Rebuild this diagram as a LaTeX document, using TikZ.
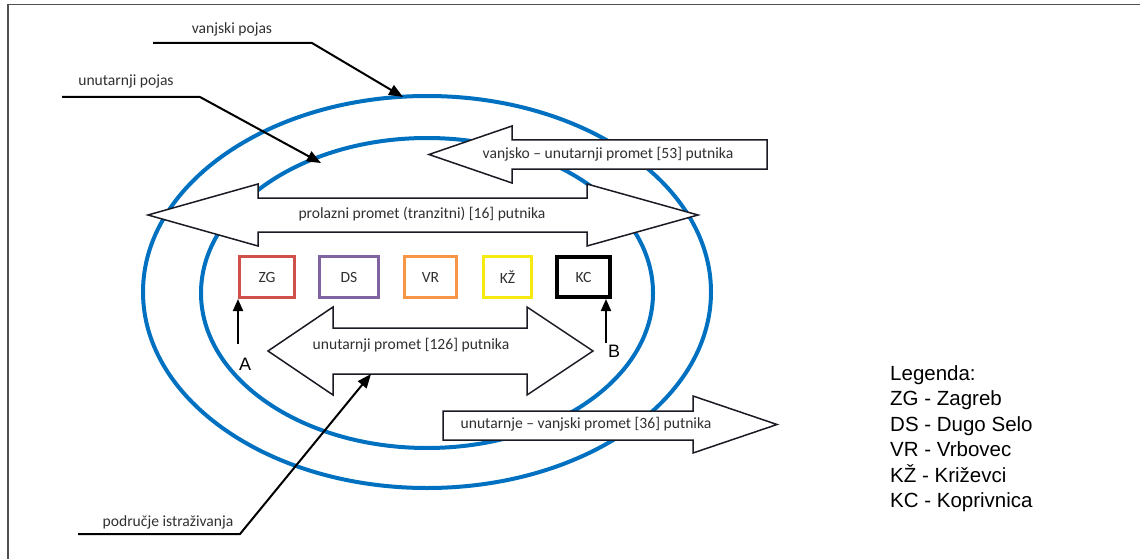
\documentclass[tikz,border=0pt]{standalone}
\usepackage{fontspec}
\setmainfont{Carlito}
\newfontfamily\legfont{Liberation Sans}
\usetikzlibrary{arrows.meta}
\definecolor{ringblue}{HTML}{0070C0}
\definecolor{zgred}{HTML}{D0504A}
\definecolor{dspurple}{HTML}{8064A2}
\definecolor{vrorange}{HTML}{F79646}
\definecolor{kzyellow}{HTML}{F5EB10}
\definecolor{txtgray}{HTML}{303030}
\definecolor{framegray}{HTML}{505050}
\definecolor{outl}{HTML}{1A1A24}
\begin{document}
\begin{tikzpicture}[x=1pt,y=-1pt,
  ring/.style={draw=ringblue,line width=4pt},
  bigarrow/.style={draw=outl,fill=white,line width=1.5pt,line join=miter},
  lbl/.style={font=\fontsize{15.6}{18}\selectfont,text=txtgray,inner sep=0pt},
  city/.style={draw,line width=3pt,minimum width=55pt,minimum height=41pt,inner sep=0pt,font=\fontsize{15.6}{18}\selectfont,text=txtgray},
  ptr/.style={draw=black,line width=2pt,-{Triangle[length=14pt,width=11pt]}},
  upptr/.style={draw=black,line width=2pt,-{Triangle[length=12pt,width=10pt]}},
  leg/.style={font=\legfont\fontsize{20.5}{23}\selectfont,anchor=base west,inner sep=0pt},
  ab/.style={font=\legfont\fontsize{18}{20}\selectfont,inner sep=0pt}]
\useasboundingbox (0,0) rectangle (1140,559);
% frame
\draw[framegray,line width=1.5pt] (8,559) -- (8,4.5) -- (1140,4.5);
% rings
\draw[ring] (427,292) ellipse [x radius=284pt, y radius=196pt];
\draw[ring] (427,293) ellipse [x radius=226pt, y radius=155pt];
% big arrows
\draw[bigarrow] (148,215) -- (258,184) -- (258,198) -- (587,198) -- (587,184) -- (698,215) -- (587,246) -- (587,232) -- (258,232) -- (258,246) -- cycle;
\node[lbl] (tranzit) at (422,214) {prolazni promet (tranzitni) [16] putnika};
\draw[bigarrow] (429,154.5) -- (512,126) -- (512,140) -- (767,140) -- (767,169) -- (512,169) -- (512,183) -- cycle;
\node[lbl] (vu) at (608,154) {vanjsko – unutarnji promet [53] putnika};
\draw[bigarrow] (268,351) -- (333,307) -- (333,328) -- (527,328) -- (527,307) -- (593,351) -- (527,395) -- (527,374) -- (333,374) -- (333,395) -- cycle;
\node[lbl] (uu) at (411,345) {unutarnji promet [126] putnika};
\draw[bigarrow] (443,411) -- (693,411) -- (693,396) -- (777,424.5) -- (693,453) -- (693,440) -- (443,440) -- cycle;
\node[lbl] (uv) at (586,424) {unutarnje – vanjski promet [36] putnika};
% cities
\node[city,draw=zgred] (ZG) at (267,277) {ZG};
\node[city,draw=dspurple,minimum width=59pt] (DS) at (349,277) {DS};
\node[city,draw=vrorange,minimum width=52pt] (VR) at (430.5,277) {VR};
\node[city,draw=kzyellow,minimum width=48pt] (KZ) at (507.5,277) {KŽ};
\node[city,draw=black,line width=4pt,minimum width=53pt,minimum height=40pt] (KC) at (583.5,277) {KC};
% A and B
\coordinate (a0) at (238,344);
\coordinate (b0) at (606,343);
\draw[upptr] (a0) -- (a0 |- ZG.south);
\draw[upptr] (b0) -- (b0 |- KC.south);
\node[ab] (A) at (245,364) {A};
\node[ab] (B) at (614,351) {B};
% pointer labels
\node[lbl] (vp) at (232,29) {vanjski pojas};
\coordinate (vp1) at (153,43);
\coordinate (vp2) at (312,43);
\coordinate (vpt) at (403,97);
\draw[ptr] (vp1) -- (vp2) -- (vpt);
\node[lbl] (up) at (126,81) {unutarnji pojas};
\coordinate (up1) at (62,97);
\coordinate (up2) at (200,97);
\coordinate (upt) at (321,163);
\draw[ptr] (up1) -- (up2) -- (upt);
\node[lbl] (pi) at (168,522) {područje istraživanja};
\coordinate (pi1) at (78,534);
\coordinate (pi2) at (240,534);
\coordinate (pit) at (371,374);
\draw[ptr] (pi1) -- (pi2) -- (pit);
% legend
\node[leg] (l0) at (890,380) {Legenda:};
\node[leg] (l1) at (890,405.5) {ZG - Zagreb};
\node[leg] (l2) at (890,431) {DS - Dugo Selo};
\node[leg] (l3) at (890,456.5) {VR - Vrbovec};
\node[leg] (l4) at (890,482) {KŽ - Križevci};
\node[leg] (l5) at (890,507.5) {KC - Koprivnica};
\end{tikzpicture}
\end{document}
